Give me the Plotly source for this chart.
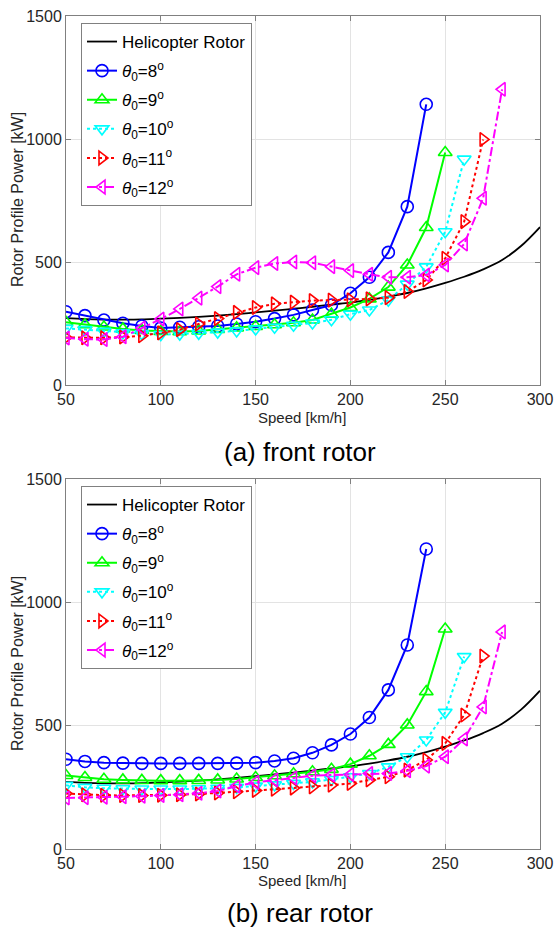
import plotly.graph_objects as go

# Forward speed [km/h]
speed_heli = list(range(50, 301, 10))
speed_8 = list(range(50, 241, 10))
speed_9 = list(range(50, 251, 10))
speed_10 = list(range(50, 261, 10))
speed_11 = list(range(50, 271, 10))
speed_12 = list(range(50, 281, 10))

# Conventional helicopter rotor profile power [kW]
heli = [272, 268, 266, 266, 267, 270, 273, 277, 282, 288, 295, 302, 310, 318,
        327, 335, 346, 359, 374, 393, 415, 440, 470, 508, 565, 642]

# Front rotor profile power [kW] for each collective pitch
front_8 = [298, 282, 264, 251, 240, 232, 235, 237, 240, 248, 257, 270, 285, 305,
           325, 373, 438, 539, 725, 1141]
front_9 = [255, 245, 236, 228, 222, 218, 217, 220, 226, 232, 238, 245, 253, 264,
           288, 315, 350, 398, 488, 640, 945]
front_10 = [230, 225, 218, 212, 208, 205, 207, 210, 215, 220, 228, 235, 243, 252,
            265, 288, 305, 345, 410, 480, 623, 918]
front_11 = [193, 192, 192, 195, 200, 212, 225, 248, 270, 295, 315, 330, 337, 343,
            345, 346, 350, 355, 380, 427, 515, 664, 998]
front_12 = [191, 186, 185, 196, 231, 268, 309, 353, 400, 450, 477, 494, 500, 497,
            481, 465, 450, 438, 438, 447, 488, 573, 759, 1202]

# Rear rotor profile power [kW] for each collective pitch
rear_8 = [364, 355, 350, 348, 347, 347, 347, 347, 347, 348, 350, 357, 368, 390,
          422, 466, 533, 645, 827, 1216]
rear_9 = [298, 290, 283, 280, 278, 277, 277, 278, 280, 284, 290, 297, 305, 313,
          323, 344, 378, 424, 503, 638, 892]
rear_10 = [258, 250, 246, 244, 243, 243, 243, 244, 246, 250, 255, 260, 266, 272,
           282, 293, 306, 333, 374, 442, 554, 780]
rear_11 = [225, 220, 218, 217, 217, 218, 220, 223, 227, 232, 237, 242, 247, 252,
           259, 266, 280, 293, 320, 361, 428, 543, 782]
rear_12 = [207, 208, 210, 212, 214, 217, 220, 226, 235, 255, 270, 280, 288, 297,
           300, 302, 306, 306, 317, 336, 374, 446, 576, 880]

pitch_labels = ["<i>θ</i><sub>0</sub>=8<sup>o</sup>",
                "<i>θ</i><sub>0</sub>=9<sup>o</sup>",
                "<i>θ</i><sub>0</sub>=10<sup>o</sup>",
                "<i>θ</i><sub>0</sub>=11<sup>o</sup>",
                "<i>θ</i><sub>0</sub>=12<sup>o</sup>"]
x_ticks = [50, 100, 150, 200, 250, 300]
y_ticks = [0, 500, 1000, 1500]

colors = ["#0000FF", "#00FF00", "#00FFFF", "#FF0000", "#FF00FF"]
symbols = ["circle-open", "triangle-up-open", "triangle-down-open",
           "triangle-right-open", "triangle-left-open"]
dashes = ["solid", "solid", "dot", "dot", "dashdot"]

speeds = [speed_8, speed_9, speed_10, speed_11, speed_12]
front = [front_8, front_9, front_10, front_11, front_12]
rear = [rear_8, rear_9, rear_10, rear_11, rear_12]

FONT = "Liberation Sans, Arial, sans-serif"
fig = go.Figure()


def add_panel(series, xaxis, yaxis, legend, tag):
    fig.add_trace(go.Scatter(
        x=speed_heli, y=heli, mode="lines", name="Helicopter Rotor",
        legendgroup=f"{tag}h",
        line=dict(color="black", width=1.8, shape="spline"),
        xaxis=xaxis, yaxis=yaxis, legend=legend))
    for i in range(5):
        fig.add_trace(go.Scatter(
            x=speeds[i], y=series[i], mode="lines+markers", name=pitch_labels[i],
            legendgroup=f"{tag}{i}",
            line=dict(color=colors[i], width=2, dash=dashes[i]),
            marker=dict(symbol=symbols[i], size=12, color=colors[i],
                        line=dict(width=1.6, color=colors[i])),
            xaxis=xaxis, yaxis=yaxis, legend=legend))


add_panel(front, "x", "y", "legend", "f")
add_panel(rear, "x2", "y2", "legend2", "r")

axis_common = dict(
    showline=True, linecolor="#808080", linewidth=1, mirror="ticks",
    ticks="inside", ticklen=5, tickcolor="#808080", automargin=False,
    showgrid=True, gridcolor="#E3E3E3", gridwidth=1, zeroline=False,
    tickfont=dict(family=FONT, size=16, color="#262626"),
)
W, H = 555, 931
xdom = [66 / W, 540 / W]
legend_common = dict(xanchor="left", yanchor="top", bgcolor="white",
                     bordercolor="#808080", borderwidth=1, tracegroupgap=4,
                     font=dict(family=FONT, size=17, color="black"), itemwidth=30)
fig.update_layout(
    width=W, height=H, margin=dict(l=0, r=0, t=0, b=0, autoexpand=False),
    paper_bgcolor="white", plot_bgcolor="white",
    font=dict(family=FONT),
    xaxis=dict(domain=xdom, range=[50, 300], tickvals=x_ticks, anchor="y", **axis_common),
    yaxis=dict(domain=[1 - 385 / H, 1 - 16 / H], range=[0, 1500], tickvals=y_ticks,
               anchor="x", **axis_common),
    xaxis2=dict(domain=xdom, range=[50, 300], tickvals=x_ticks, anchor="y2", **axis_common),
    yaxis2=dict(domain=[1 - 849 / H, 1 - 479 / H], range=[0, 1500], tickvals=y_ticks,
                anchor="x2", **axis_common),
    legend=dict(x=81 / W, y=1 - 23 / H, **legend_common),
    legend2=dict(x=81 / W, y=1 - 486 / H, **legend_common),
)

texts = [
    ("Speed [km/h]", 302, 417, 15, 0),
    ("(a) front rotor", 300, 452, 26, 0),
    ("Speed [km/h]", 302, 880, 15, 0),
    ("(b) rear rotor", 300, 913, 26, 0),
    ("Rotor Profile Power [kW]", 17, 200, 16, -90),
    ("Rotor Profile Power [kW]", 17, 664, 16, -90),
]
for t, px, py, size, ang in texts:
    fig.add_annotation(text=t, x=px / W, y=1 - py / H, xref="paper", yref="paper",
                       showarrow=False, textangle=ang, xanchor="center", yanchor="middle",
                       font=dict(family=FONT, size=size,
                                 color="black" if size > 20 else "#262626"))

fig.write_html("out.html")
